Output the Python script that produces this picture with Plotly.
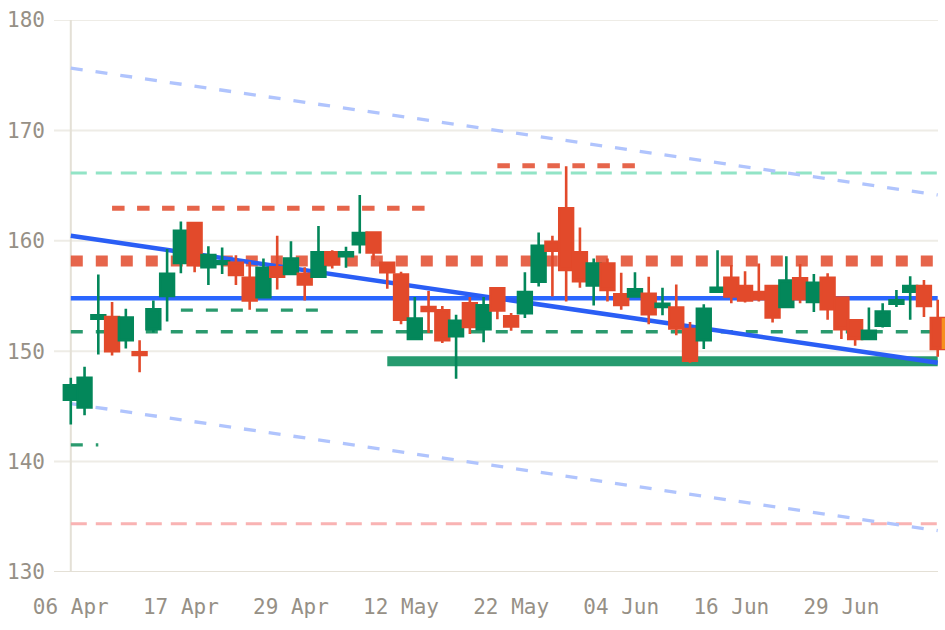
import plotly.graph_objects as go

# ---------------- data ----------------
dates = [
    "2026-04-06", "2026-04-07", "2026-04-08", "2026-04-09", "2026-04-13", "2026-04-14", "2026-04-15", "2026-04-16",
    "2026-04-17", "2026-04-20", "2026-04-21", "2026-04-22", "2026-04-23", "2026-04-24", "2026-04-27", "2026-04-28",
    "2026-04-29", "2026-04-30", "2026-05-04", "2026-05-05", "2026-05-06", "2026-05-07", "2026-05-08", "2026-05-11",
    "2026-05-12", "2026-05-13", "2026-05-14", "2026-05-15", "2026-05-18", "2026-05-19", "2026-05-20", "2026-05-21",
    "2026-05-22", "2026-05-26", "2026-05-27", "2026-05-28", "2026-05-29", "2026-06-01", "2026-06-02", "2026-06-03",
    "2026-06-04", "2026-06-05", "2026-06-08", "2026-06-09", "2026-06-10", "2026-06-11", "2026-06-12", "2026-06-15",
    "2026-06-16", "2026-06-17", "2026-06-18", "2026-06-22", "2026-06-23", "2026-06-24", "2026-06-25", "2026-06-26",
    "2026-06-29", "2026-06-30", "2026-07-01", "2026-07-02", "2026-07-06", "2026-07-07", "2026-07-08", "2026-07-09",
]

open_ = [145.6, 144.9, 152.95, 153.1, 151.0, 149.9, 152.0, 155.0, 158.0, 161.6,
         157.6, 157.9, 158.0, 156.65, 154.9, 157.6, 157.0, 157.0, 156.75, 158.95,
         158.6, 159.7, 160.75, 158.0, 156.95, 151.1, 154.0, 153.7, 151.35, 154.35,
         152.0, 155.7, 153.15, 153.45, 156.3, 159.9, 162.95, 158.95, 155.95, 157.95,
         155.15, 154.95, 155.2, 154.0, 153.95, 152.0, 151.0, 155.4, 156.65, 155.9,
         155.35, 155.9, 154.0, 156.6, 154.45, 156.65, 154.85, 152.8, 151.1, 152.3,
         154.3, 155.4, 155.9, 153.0]
high = [147.6, 148.6, 156.95, 154.45, 153.85, 151.0, 154.6, 159.25, 161.75, 161.6,
        159.5, 159.4, 158.7, 158.1, 158.4, 160.45, 159.95, 157.6, 161.35, 159.15,
        159.45, 164.15, 160.75, 158.1, 157.2, 154.9, 155.45, 154.1, 153.3, 154.9,
        154.9, 155.75, 153.45, 157.15, 160.75, 160.45, 166.75, 161.2, 158.4, 158.4,
        157.1, 157.15, 156.75, 155.75, 156.05, 152.65, 154.25, 159.15, 157.8, 157.25,
        157.95, 156.0, 158.6, 157.9, 157.0, 157.05, 154.85, 152.8, 153.95, 154.35,
        155.55, 156.8, 156.45, 154.65]
low = [143.35, 144.2, 149.7, 149.6, 150.25, 148.1, 151.7, 152.7, 157.05, 157.15,
       156.0, 157.0, 156.0, 153.75, 154.85, 155.6, 157.0, 154.6, 156.7, 157.5,
       157.55, 158.85, 158.25, 155.65, 152.45, 151.1, 151.65, 150.75, 147.5, 151.55,
       150.8, 152.9, 151.85, 153.0, 155.85, 154.95, 154.5, 155.75, 154.15, 154.5,
       153.75, 154.95, 152.45, 153.25, 151.45, 148.95, 150.2, 155.35, 154.35, 154.4,
       154.5, 152.6, 153.95, 154.35, 153.55, 152.85, 151.1, 150.5, 151.1, 152.15,
       154.0, 152.85, 153.1, 149.5]
close = [146.9, 147.6, 153.25, 150.0, 153.05, 149.65, 153.8, 157.0, 160.9, 157.8,
         158.7, 158.15, 156.9, 154.6, 157.55, 156.75, 158.4, 156.05, 158.95, 157.85,
         158.95, 160.7, 158.95, 157.15, 152.85, 152.95, 153.65, 151.0, 152.75, 152.2,
         154.15, 153.7, 152.25, 155.35, 159.55, 159.1, 157.35, 156.35, 157.95, 155.55,
         154.2, 155.6, 153.35, 154.3, 152.05, 149.15, 153.85, 155.75, 154.95, 154.6,
         154.7, 153.05, 156.4, 154.7, 156.2, 153.8, 152.0, 151.1, 151.85, 153.6,
         154.6, 155.9, 154.1, 150.2]

tick_dates = dates[::8]
tick_labels = ["06 Apr", "17 Apr", "29 Apr", "12 May", "22 May", "04 Jun", "16 Jun", "29 Jun"]
y_ticks = [130, 140, 150, 160, 170, 180]

# regression channel (value at first and last candle)
trend_start, trend_end = 160.45, 148.95
channel_width = 15.2
# horizontal levels: (value, start index, end index)
support_main = (154.8, 0, 63)
green_zone = (149.1, 23, 63)
green_dashed = [(151.76, 0, 63), (153.72, 8, 18), (141.52, 0, 2)]
red_dashed_thin = [(162.95, 3, 26), (166.8, 31, 41)]
red_dashed_thick = (158.18, 0, 63)
mint_level = (166.15, 0, 63)
pink_level = (134.38, 0, 63)

# ---------------- styles ----------------
GREEN = "#03875a"
RED = "#e24a2b"
GRID = "#eeece6"
AXIS = "#e4e0d6"
TXT = "#969086"
FONT = "DejaVu Sans Mono"

fig = go.Figure()

fig.add_trace(go.Candlestick(
    x=dates, open=open_, high=high, low=low, close=close,
    increasing=dict(line=dict(color=GREEN, width=2.6), fillcolor=GREEN),
    decreasing=dict(line=dict(color=RED, width=2.6), fillcolor=RED),
    whiskerwidth=0, hoverinfo="skip", showlegend=False,
))

shapes = []
grid_right = (938 - 54) / (945 - 54)
for v in y_ticks[1:]:
    shapes.append(dict(type="line", xref="paper", yref="y", x0=0, x1=grid_right, y0=v, y1=v,
                       line=dict(color=GRID, width=2), layer="below"))
shapes.append(dict(type="line", xref="paper", yref="y", x0=0, x1=grid_right, y0=y_ticks[0], y1=y_ticks[0],
                   line=dict(color=AXIS, width=2), layer="below"))
shapes.append(dict(type="line", xref="x", yref="y", x0=dates[0], x1=dates[0], y0=y_ticks[0], y1=y_ticks[-1],
                   line=dict(color=AXIS, width=2), layer="below"))


def hline(level, color, width, dash):
    v, a, b = level
    shapes.append(dict(type="line", xref="x", yref="y", x0=dates[a], x1=dates[b], y0=v, y1=v,
                       line=dict(color=color, width=width, dash=dash), layer="below"))


hline(pink_level, "#f9b3b3", 3, "16px,9px")
hline(mint_level, "#92e4c6", 3, "16px,9px")
for off in (channel_width, -channel_width):
    shapes.append(dict(type="line", xref="x", yref="y", x0=dates[0], x1=dates[-1],
                       y0=trend_start + off, y1=trend_end + off,
                       line=dict(color="#b0c4fd", width=3.3, dash="12px,13px"), layer="below"))
hline(green_zone, "#269b6f", 10, "solid")
for lv in green_dashed:
    hline(lv, "#2a9a6e", 3.3, "12px,13px")
hline(red_dashed_thick, "rgba(226,74,43,0.85)", 11, "12px,13px")
for lv in red_dashed_thin:
    hline(lv, "rgba(226,74,43,0.85)", 5, "12.5px,12.5px")
hline(support_main, "#2a66ff", 4.5, "solid")
shapes.append(dict(type="line", xref="x", yref="y", x0=dates[0], x1=dates[-1], y0=trend_start, y1=trend_end,
                   line=dict(color="#2a5ef5", width=4.5), layer="below"))
# highlighted last price sliver at right edge
shapes.append(dict(type="rect", xref="paper", yref="y", x0=(941.7 - 54) / 891, x1=1,
                   y0=close[-1], y1=open_[-1], fillcolor="#f7901e", line=dict(width=0), layer="above"))

fig.update_layout(
    width=945, height=630,
    margin=dict(l=54, r=0, t=19.5, b=57.5),
    paper_bgcolor="white", plot_bgcolor="white",
    boxgap=0, boxgroupgap=0,
    shapes=shapes,
    showlegend=False,
    font=dict(family=FONT, size=21, color=TXT),
    xaxis=dict(type="category", range=[-1.22, 63.53], showgrid=False, zeroline=False, showline=False,
               ticks="", tickvals=tick_dates, ticktext=tick_labels, rangeslider=dict(visible=False),
               tickfont=dict(family=FONT, size=21, color=TXT), ticklabelstandoff=20),
    yaxis=dict(range=[130, 180], showgrid=False, zeroline=False, showline=False, ticks="",
               tickvals=y_ticks, tickfont=dict(family=FONT, size=21, color=TXT), ticklabelstandoff=8),
)

fig.write_html("out.html")
